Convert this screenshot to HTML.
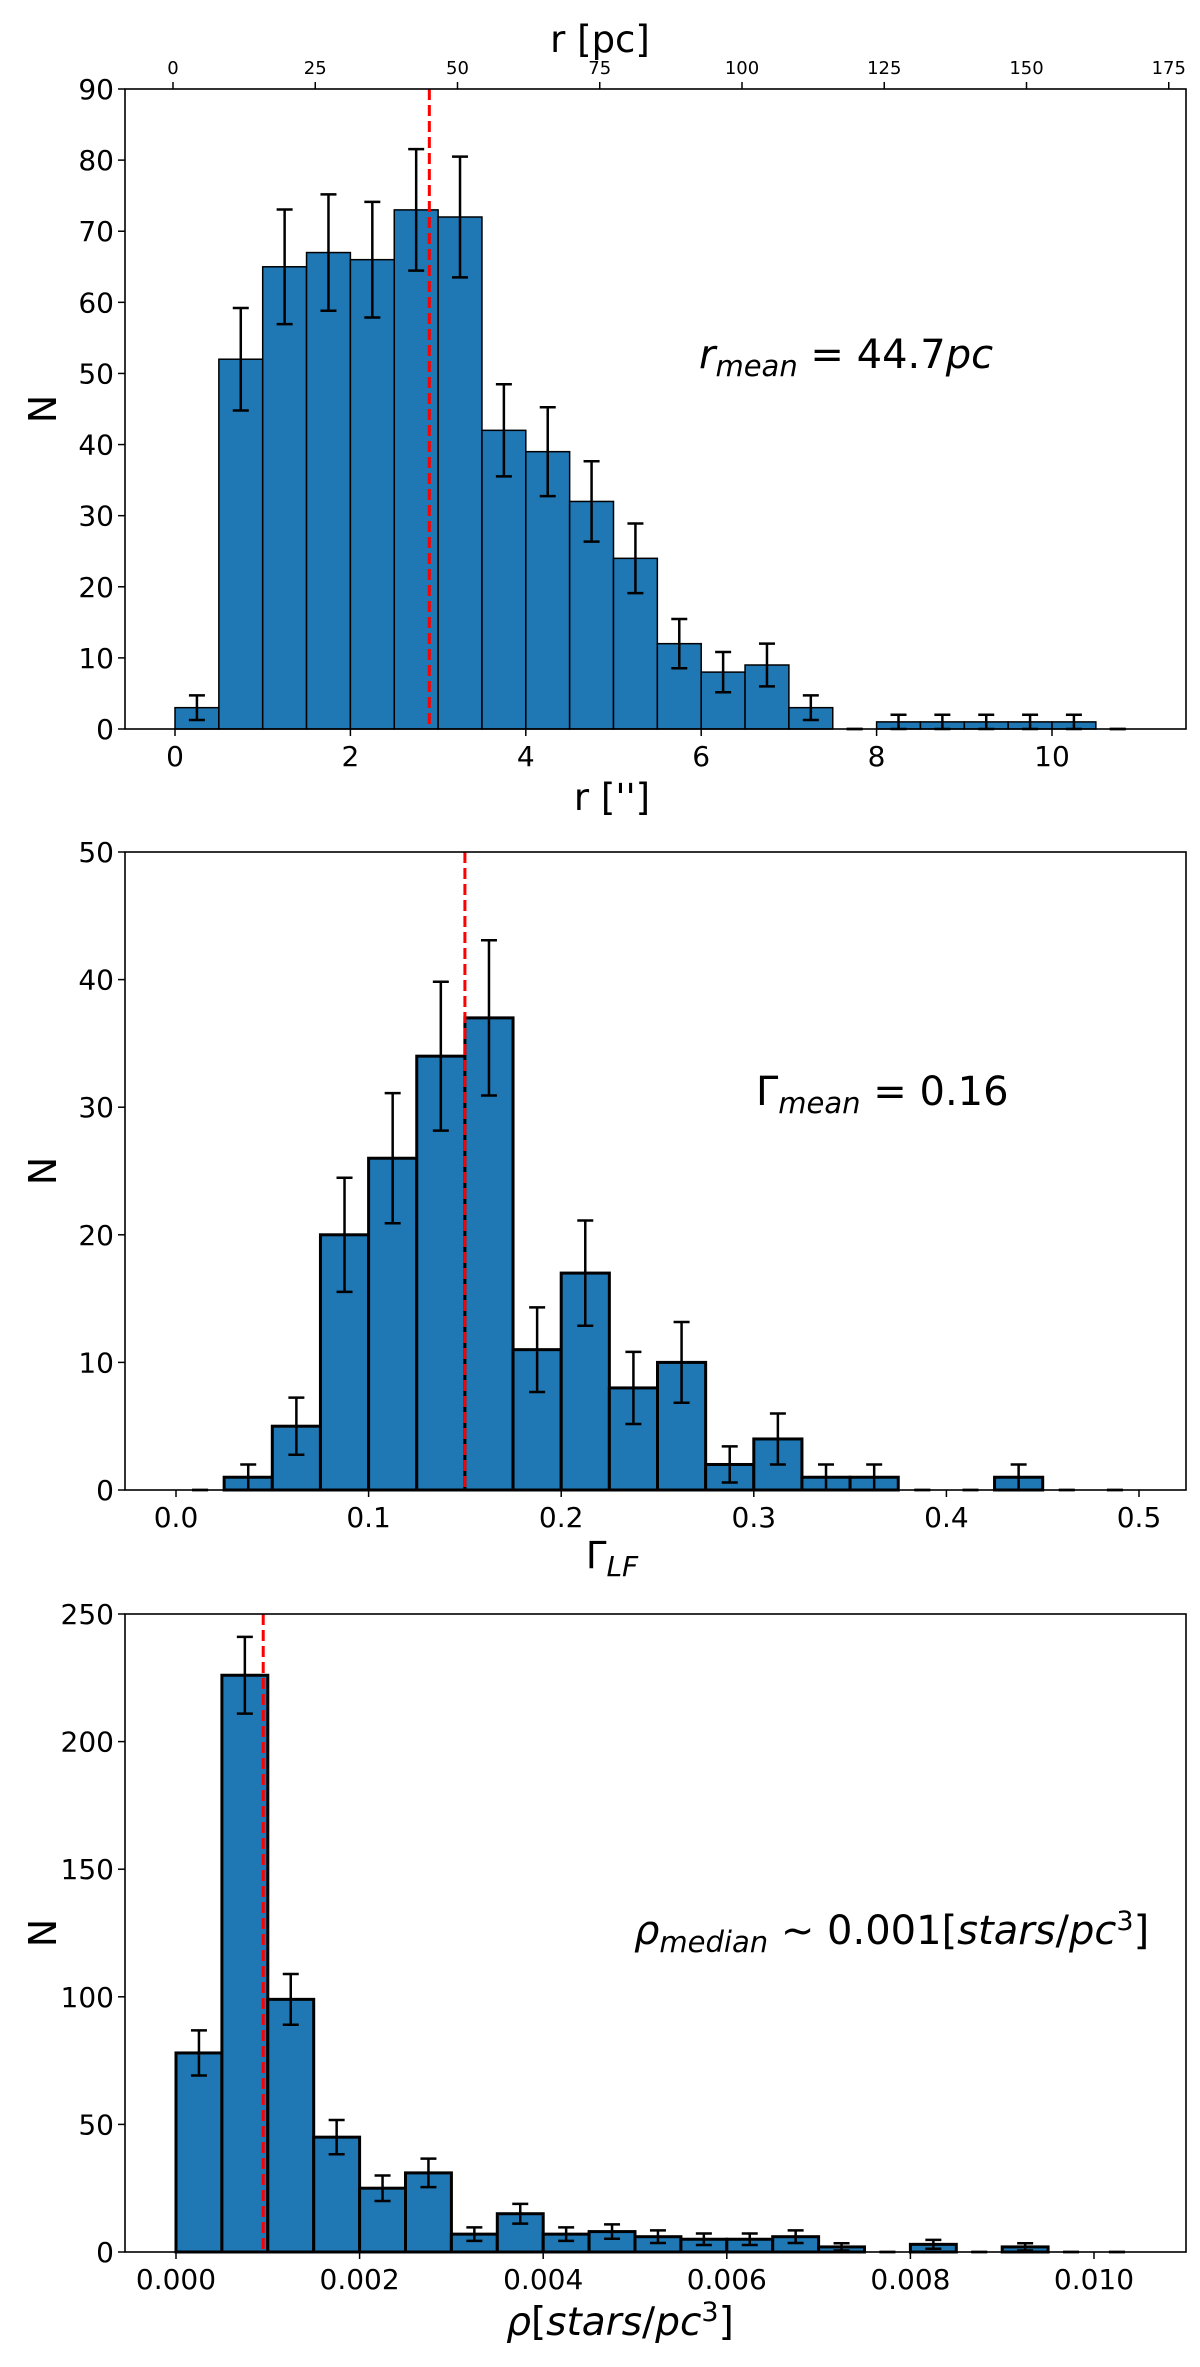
<!DOCTYPE html>
<html><head><meta charset="utf-8">
<style>
body{margin:0;background:#fff;}
svg{display:block;font-family:"DejaVu Sans","Liberation Sans",sans-serif;}
</style></head>
<body>
<svg id="fig" width="1200" height="2367" viewBox="0 0 1200 2367" xmlns="http://www.w3.org/2000/svg"></svg>
<script>
// Panel 1: radial distance histogram
const rBinStart = 0, rBinWidth = 0.5;
const rCounts = [3,52,65,67,66,73,72,42,39,32,24,12,8,9,3,0,1,1,1,1,1,0];
const rTicks = [0,2,4,6,8,10];
const rYTicks = [0,10,20,30,40,50,60,70,80,90];
const pcTicks = [0,25,50,75,100,125,150,175];
const rMean = 2.9;
// Panel 2: Gamma LF histogram
const gBinStart = 0, gBinWidth = 0.025;
const gCounts = [0,1,5,20,26,34,37,11,17,8,10,2,4,1,1,0,0,1,0,0];
const gTicks = [0.0,0.1,0.2,0.3,0.4,0.5];
const gTickLabels = ["0.0","0.1","0.2","0.3","0.4","0.5"];
const gYTicks = [0,10,20,30,40,50];
const gMean = 0.15;
// Panel 3: density histogram
const dBinStart = 0, dBinWidth = 0.0005;
const dCounts = [78,226,99,45,25,31,7,15,7,8,6,5,5,6,2,0,3,0,2,0,0];
const dTicks = [0,0.002,0.004,0.006,0.008,0.010];
const dTickLabels = ["0.000","0.002","0.004","0.006","0.008","0.010"];
const dYTicks = [0,50,100,150,200,250];
const dMedian = 0.00095;

const NS="http://www.w3.org/2000/svg";
const svg=document.getElementById('fig');
function mk(tag,attrs,parent){const e=document.createElementNS(NS,tag);for(const k in attrs)e.setAttribute(k,attrs[k]);(parent||svg).appendChild(e);return e;}

function panel(o){
  const g=mk('g',{});
  
  
  const L=125,R=1186,T=o.top,B=o.bottom;
  const sx=v=>o.x0+(v-o.xa)*(o.x1-o.x0)/(o.xb-o.xa);
  const sy=v=>B-(v/o.ymax)*(B-T);
  o.counts.forEach((c,i)=>{
    const xa=sx(o.bs+i*o.bw), xb=sx(o.bs+(i+1)*o.bw);
    const r=mk('rect',{x:xa,y:sy(c),width:xb-xa,height:B-sy(c),fill:'#1f77b4',stroke:'#000','stroke-width':o.sw},g);
    
    
  });
  o.counts.forEach((c,i)=>{
    const xc=sx(o.bs+(i+0.5)*o.bw), e=Math.sqrt(c);
    const eb=mk('g',{stroke:'#000','stroke-width':2.5},g);
    
    
    mk('line',{x1:xc,x2:xc,y1:sy(c-e),y2:sy(c+e)},eb);
    mk('line',{x1:xc-8,x2:xc+8,y1:sy(c-e),y2:sy(c-e)},eb);
    mk('line',{x1:xc-8,x2:xc+8,y1:sy(c+e),y2:sy(c+e)},eb);
  });
  const ml=mk('line',{x1:sx(o.mean),x2:sx(o.mean),y1:T,y2:B,stroke:'#ff0000','stroke-width':3,'stroke-dasharray':'11,5'},g);
  
  
  const fr=mk('rect',{x:L,y:T,width:R-L,height:B-T,fill:'none',stroke:'#000','stroke-width':1.6},g);
  
  
  o.xt.forEach((v,i)=>{
    const x=sx(v);
    mk('line',{x1:x,x2:x,y1:B,y2:B+7,stroke:'#000','stroke-width':1.5},g);
    const t=mk('text',{x:x,y:B+37,'font-size':28,'text-anchor':'middle'},g);
    t.textContent=o.xl?o.xl[i]:v;
    
    
  });
  o.yt.forEach(v=>{
    const y=sy(v);
    mk('line',{x1:L-7,x2:L,y1:y,y2:y,stroke:'#000','stroke-width':1.5},g);
    const t=mk('text',{x:L-11,y:y+10,'font-size':28,'text-anchor':'end'},g);
    t.textContent=v;
    
    
  });
  const yl=mk('text',{x:0,y:0,'font-size':38,'text-anchor':'middle',transform:`translate(56,${(T+B)/2}) rotate(-90)`},g);
  yl.textContent='N';
  
  
  return {g,sx,sy,L,R,T,B};
}

const p1=panel({name:'radius-histogram',top:89,bottom:729,x0:175,x1:1052,xa:0,xb:10,ymax:90,bs:rBinStart,bw:rBinWidth,counts:rCounts,xt:rTicks,yt:rYTicks,mean:rMean,sw:1.5});
const pcx=v=>173+v*5.69;
pcTicks.forEach(v=>{
  mk('line',{x1:pcx(v),x2:pcx(v),y1:89,y2:82,stroke:'#000','stroke-width':1.5},p1.g);
  const t=mk('text',{x:pcx(v),y:74,'font-size':18,'text-anchor':'middle'},p1.g);
  t.textContent=v;
  
  
});
let t;
t=mk('text',{x:600,y:52,'font-size':37,'text-anchor':'middle'});t.textContent='r [pc]';


t=mk('text',{x:612,y:810,'font-size':37,'text-anchor':'middle'});t.textContent="r ['']";


t=mk('text',{x:699,y:368,'font-size':40});
t.innerHTML='<tspan font-style="italic">r</tspan><tspan font-style="italic" font-size="29" dy="8">mean</tspan><tspan dy="-8"> = 44.7</tspan><tspan font-style="italic">pc</tspan>';



panel({name:'gamma-histogram',top:852,bottom:1490,x0:176,x1:1139,xa:0,xb:0.5,ymax:50,bs:gBinStart,bw:gBinWidth,counts:gCounts,xt:gTicks,xl:gTickLabels,yt:gYTicks,mean:gMean,sw:3});
t=mk('text',{x:612,y:1568,'font-size':37,'text-anchor':'middle'});
t.innerHTML='Γ<tspan font-style="italic" font-size="28" dy="8">LF</tspan>';


t=mk('text',{x:756,y:1105,'font-size':40});
t.innerHTML='Γ<tspan font-style="italic" font-size="29" dy="8">mean</tspan><tspan dy="-8"> = 0.16</tspan>';



panel({name:'density-histogram',top:1614,bottom:2252,x0:176,x1:1094,xa:0,xb:0.010,ymax:250,bs:dBinStart,bw:dBinWidth,counts:dCounts,xt:dTicks,xl:dTickLabels,yt:dYTicks,mean:dMedian,sw:3});
t=mk('text',{x:620,y:2335,'font-size':39,'text-anchor':'middle'});
t.innerHTML='<tspan font-style="italic">ρ</tspan>[<tspan font-style="italic">stars</tspan>/<tspan font-style="italic">pc</tspan><tspan font-size="27" dy="-14">3</tspan><tspan dy="14">]</tspan>';


t=mk('text',{x:634,y:1944,'font-size':40});
t.innerHTML='<tspan font-style="italic">ρ</tspan><tspan font-style="italic" font-size="29" dy="8">median</tspan><tspan dy="-8"> ~ 0.001[</tspan><tspan font-style="italic">stars</tspan>/<tspan font-style="italic">pc</tspan><tspan font-size="27" dy="-14">3</tspan><tspan dy="14">]</tspan>';


</script>
</body></html>
